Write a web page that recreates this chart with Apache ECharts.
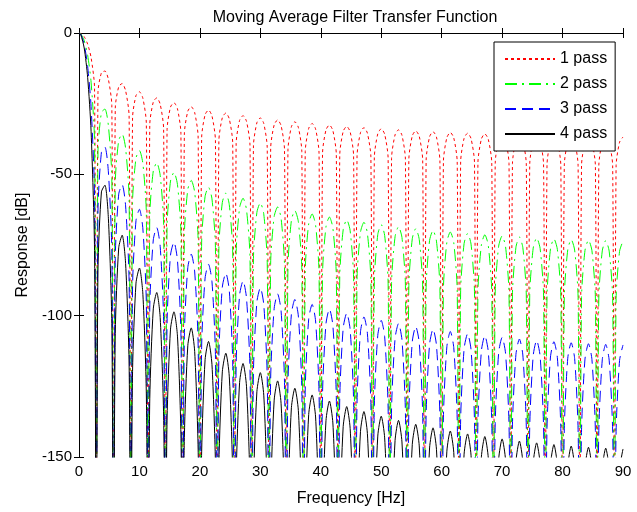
<!DOCTYPE html>
<html>
<head>
<meta charset="utf-8">
<script src="https://cdn.jsdelivr.net/npm/echarts@6/dist/echarts.min.js"></script>
<style>
  html, body { margin: 0; padding: 0; background: #fff; }
  #main { width: 637px; height: 512px; }
</style>
</head>
<body>
<div id="main"></div>
<script>
// frequency samples [Hz], one row per lobe (notch, rising, peak, falling)
var freq = [
    0, 0.29, 0.86, 1.43, 2.00, 2.57,
    2.86, 3.14, 3.71, 4.29, 4.86, 5.43,
    5.71, 6.00, 6.57, 7.14, 7.71, 8.29,
    8.57, 8.86, 9.43, 10.00, 10.57, 11.14,
    11.43, 11.71, 12.29, 12.86, 13.43, 14.00,
    14.29, 14.57, 15.14, 15.71, 16.29, 16.86,
    17.14, 17.43, 18.00, 18.57, 19.14, 19.71,
    20.00, 20.29, 20.86, 21.43, 22.00, 22.57,
    22.86, 23.14, 23.71, 24.29, 24.86, 25.43,
    25.71, 26.00, 26.57, 27.14, 27.71, 28.29,
    28.57, 28.86, 29.43, 30.00, 30.57, 31.14,
    31.43, 31.71, 32.29, 32.86, 33.43, 34.00,
    34.29, 34.57, 35.14, 35.71, 36.29, 36.86,
    37.14, 37.43, 38.00, 38.57, 39.14, 39.71,
    40.00, 40.29, 40.86, 41.43, 42.00, 42.57,
    42.86, 43.14, 43.71, 44.29, 44.86, 45.43,
    45.71, 46.00, 46.57, 47.14, 47.71, 48.29,
    48.57, 48.86, 49.43, 50.00, 50.57, 51.14,
    51.43, 51.71, 52.29, 52.86, 53.43, 54.00,
    54.29, 54.57, 55.14, 55.71, 56.29, 56.86,
    57.14, 57.43, 58.00, 58.57, 59.14, 59.71,
    60.00, 60.29, 60.86, 61.43, 62.00, 62.57,
    62.86, 63.14, 63.71, 64.29, 64.86, 65.43,
    65.71, 66.00, 66.57, 67.14, 67.71, 68.29,
    68.57, 68.86, 69.43, 70.00, 70.57, 71.14,
    71.43, 71.71, 72.29, 72.86, 73.43, 74.00,
    74.29, 74.57, 75.14, 75.71, 76.29, 76.86,
    77.14, 77.43, 78.00, 78.57, 79.14, 79.71,
    80.00, 80.29, 80.86, 81.43, 82.00, 82.57,
    82.86, 83.14, 83.71, 84.29, 84.86, 85.43,
    85.71, 86.00, 86.57, 87.14, 87.71, 88.29,
    88.57, 88.86, 89.43, 90.00
]

// response [dB], 1 pass
var pass1 = [
    0, -0.14, -1.33, -3.92, -8.69, -19.23,
    -200, -20.97, -14.06, -13.46, -16.38, -25.71,
    -200, -26.57, -19.00, -17.88, -20.39, -29.37,
    -200, -29.94, -22.12, -20.79, -23.11, -31.92,
    -200, -32.35, -24.40, -22.95, -25.16, -33.88,
    -200, -34.24, -26.19, -24.66, -26.81, -35.48,
    -200, -35.76, -27.66, -26.08, -28.18, -36.80,
    -200, -37.04, -28.90, -27.28, -29.34, -37.92,
    -200, -38.13, -29.97, -28.32, -30.35, -38.91,
    -200, -39.09, -30.90, -29.23, -31.24, -39.77,
    -200, -39.93, -31.73, -30.04, -32.03, -40.55,
    -200, -40.70, -32.47, -30.77, -32.75, -41.24,
    -200, -41.37, -33.14, -31.42, -33.38, -41.87,
    -200, -41.99, -33.74, -32.01, -33.96, -42.43,
    -200, -42.55, -34.29, -32.55, -34.49, -42.95,
    -200, -43.05, -34.79, -33.04, -34.97, -43.43,
    -200, -43.51, -35.23, -33.48, -35.41, -43.85,
    -200, -43.93, -35.65, -33.89, -35.81, -44.25,
    -200, -44.32, -36.03, -34.26, -36.17, -44.60,
    -200, -44.68, -36.38, -34.61, -36.52, -44.94,
    -200, -45.00, -36.70, -34.92, -36.82, -45.24,
    -200, -45.29, -36.99, -35.20, -37.09, -45.51,
    -200, -45.56, -37.25, -35.46, -37.35, -45.76,
    -200, -45.80, -37.49, -35.69, -37.57, -45.98,
    -200, -46.02, -37.70, -35.90, -37.78, -46.18,
    -200, -46.22, -37.89, -36.09, -37.97, -46.36,
    -200, -46.39, -38.06, -36.25, -38.12, -46.51,
    -200, -46.55, -38.21, -36.40, -38.27, -46.65,
    -200, -46.68, -38.35, -36.53, -38.39, -46.78,
    -200, -46.80, -38.46, -36.64, -38.50, -46.88,
    -200, -46.89, -38.54, -36.72, -38.58, -46.95,
    -200, -46.97, -38.62, -36.79
]

// 2 passes
var pass2 = [
    0, -0.28, -2.66, -7.84, -17.38, -38.46,
    -200, -41.94, -28.12, -26.92, -32.76, -51.42,
    -200, -53.14, -38.00, -35.76, -40.78, -58.74,
    -200, -59.88, -44.24, -41.58, -46.22, -63.84,
    -200, -64.70, -48.80, -45.90, -50.32, -67.76,
    -200, -68.48, -52.38, -49.32, -53.62, -70.96,
    -200, -71.52, -55.32, -52.16, -56.36, -73.60,
    -200, -74.08, -57.80, -54.56, -58.68, -75.84,
    -200, -76.26, -59.94, -56.64, -60.70, -77.82,
    -200, -78.18, -61.80, -58.46, -62.48, -79.54,
    -200, -79.86, -63.46, -60.08, -64.06, -81.10,
    -200, -81.40, -64.94, -61.54, -65.50, -82.48,
    -200, -82.74, -66.28, -62.84, -66.76, -83.74,
    -200, -83.98, -67.48, -64.02, -67.92, -84.86,
    -200, -85.10, -68.58, -65.10, -68.98, -85.90,
    -200, -86.10, -69.58, -66.08, -69.94, -86.86,
    -200, -87.02, -70.46, -66.96, -70.82, -87.70,
    -200, -87.86, -71.30, -67.78, -71.62, -88.50,
    -200, -88.64, -72.06, -68.52, -72.34, -89.20,
    -200, -89.36, -72.76, -69.22, -73.04, -89.88,
    -200, -90.00, -73.40, -69.84, -73.64, -90.48,
    -200, -90.58, -73.98, -70.40, -74.18, -91.02,
    -200, -91.12, -74.50, -70.92, -74.70, -91.52,
    -200, -91.60, -74.98, -71.38, -75.14, -91.96,
    -200, -92.04, -75.40, -71.80, -75.56, -92.36,
    -200, -92.44, -75.78, -72.18, -75.94, -92.72,
    -200, -92.78, -76.12, -72.50, -76.24, -93.02,
    -200, -93.10, -76.42, -72.80, -76.54, -93.30,
    -200, -93.36, -76.70, -73.06, -76.78, -93.56,
    -200, -93.60, -76.92, -73.28, -77.00, -93.76,
    -200, -93.78, -77.08, -73.44, -77.16, -93.90,
    -200, -93.94, -77.24, -73.58
]

// 3 passes
var pass3 = [
    0, -0.42, -3.99, -11.76, -26.07, -57.69,
    -200, -62.91, -42.18, -40.38, -49.14, -77.13,
    -200, -79.71, -57.00, -53.64, -61.17, -88.11,
    -200, -89.82, -66.36, -62.37, -69.33, -95.76,
    -200, -97.05, -73.20, -68.85, -75.48, -101.64,
    -200, -102.72, -78.57, -73.98, -80.43, -106.44,
    -200, -107.28, -82.98, -78.24, -84.54, -110.40,
    -200, -111.12, -86.70, -81.84, -88.02, -113.76,
    -200, -114.39, -89.91, -84.96, -91.05, -116.73,
    -200, -117.27, -92.70, -87.69, -93.72, -119.31,
    -200, -119.79, -95.19, -90.12, -96.09, -121.65,
    -200, -122.10, -97.41, -92.31, -98.25, -123.72,
    -200, -124.11, -99.42, -94.26, -100.14, -125.61,
    -200, -125.97, -101.22, -96.03, -101.88, -127.29,
    -200, -127.65, -102.87, -97.65, -103.47, -128.85,
    -200, -129.15, -104.37, -99.12, -104.91, -130.29,
    -200, -130.53, -105.69, -100.44, -106.23, -131.55,
    -200, -131.79, -106.95, -101.67, -107.43, -132.75,
    -200, -132.96, -108.09, -102.78, -108.51, -133.80,
    -200, -134.04, -109.14, -103.83, -109.56, -134.82,
    -200, -135.00, -110.10, -104.76, -110.46, -135.72,
    -200, -135.87, -110.97, -105.60, -111.27, -136.53,
    -200, -136.68, -111.75, -106.38, -112.05, -137.28,
    -200, -137.40, -112.47, -107.07, -112.71, -137.94,
    -200, -138.06, -113.10, -107.70, -113.34, -138.54,
    -200, -138.66, -113.67, -108.27, -113.91, -139.08,
    -200, -139.17, -114.18, -108.75, -114.36, -139.53,
    -200, -139.65, -114.63, -109.20, -114.81, -139.95,
    -200, -140.04, -115.05, -109.59, -115.17, -140.34,
    -200, -140.40, -115.38, -109.92, -115.50, -140.64,
    -200, -140.67, -115.62, -110.16, -115.74, -140.85,
    -200, -140.91, -115.86, -110.37
]

// 4 passes
var pass4 = [
    0, -0.56, -5.32, -15.68, -34.76, -76.92,
    -200, -83.88, -56.24, -53.84, -65.52, -102.84,
    -200, -106.28, -76.00, -71.52, -81.56, -117.48,
    -200, -119.76, -88.48, -83.16, -92.44, -127.68,
    -200, -129.40, -97.60, -91.80, -100.64, -135.52,
    -200, -136.96, -104.76, -98.64, -107.24, -141.92,
    -200, -143.04, -110.64, -104.32, -112.72, -147.20,
    -200, -148.16, -115.60, -109.12, -117.36, -151.68,
    -200, -152.52, -119.88, -113.28, -121.40, -155.64,
    -200, -156.36, -123.60, -116.92, -124.96, -159.08,
    -200, -159.72, -126.92, -120.16, -128.12, -162.20,
    -200, -162.80, -129.88, -123.08, -131.00, -164.96,
    -200, -165.48, -132.56, -125.68, -133.52, -167.48,
    -200, -167.96, -134.96, -128.04, -135.84, -169.72,
    -200, -170.20, -137.16, -130.20, -137.96, -171.80,
    -200, -172.20, -139.16, -132.16, -139.88, -173.72,
    -200, -174.04, -140.92, -133.92, -141.64, -175.40,
    -200, -175.72, -142.60, -135.56, -143.24, -177.00,
    -200, -177.28, -144.12, -137.04, -144.68, -178.40,
    -200, -178.72, -145.52, -138.44, -146.08, -179.76,
    -200, -180.00, -146.80, -139.68, -147.28, -180.96,
    -200, -181.16, -147.96, -140.80, -148.36, -182.04,
    -200, -182.24, -149.00, -141.84, -149.40, -183.04,
    -200, -183.20, -149.96, -142.76, -150.28, -183.92,
    -200, -184.08, -150.80, -143.60, -151.12, -184.72,
    -200, -184.88, -151.56, -144.36, -151.88, -185.44,
    -200, -185.56, -152.24, -145.00, -152.48, -186.04,
    -200, -186.20, -152.84, -145.60, -153.08, -186.60,
    -200, -186.72, -153.40, -146.12, -153.56, -187.12,
    -200, -187.20, -153.84, -146.56, -154.00, -187.52,
    -200, -187.56, -154.16, -146.88, -154.32, -187.80,
    -200, -187.88, -154.48, -147.16
]

var seriesNames = ['1 pass', '2 pass', '3 pass', '4 pass']
var xTicks = [0, 10, 20, 30, 40, 50, 60, 70, 80, 90]
var yTicks = [0, -50, -100, -150]

var font = 'Liberation Sans, Arial, Helvetica, sans-serif'

function pairs(ys) {
    var out = []
    for (var i = 0; i < freq.length; i++) {
        out.push([freq[i], ys[i]])
    }
    return out
}

function lineSeries(name, ys, color, dash) {
    return {
        name: name,
        type: 'line',
        data: pairs(ys),
        xAxisIndex: 0,
        yAxisIndex: 0,
        symbol: 'none',
        showSymbol: false,
        smooth: 0.25,
        clip: true,
        lineStyle: { color: color, width: 1, type: dash },
        itemStyle: { color: color },
        emphasis: { disabled: true }
    }
}

var axisCommon = {
    axisLine: { show: true, lineStyle: { color: '#000', width: 1 } },
    axisTick: { show: true, inside: true, length: 5, lineStyle: { color: '#000' } },
    splitLine: { show: false }
}

var mCharts = echarts.init(document.getElementById('main'), null, { renderer: 'canvas' })

var option = {
    animation: false,
    backgroundColor: '#fff',
    title: {
        text: 'Moving Average Filter Transfer Function',
        left: 350,
        top: 5,
        textAlign: 'center',
        textStyle: { fontFamily: font, fontSize: 16, fontWeight: 'normal', color: '#000' }
    },
    legend: {
        data: seriesNames,
        orient: 'vertical',
        left: 494,
        top: 42,
        padding: [9, 8, 9, 10],
        itemWidth: 50,
        itemHeight: 14,
        itemGap: 9,
        backgroundColor: '#fff',
        borderColor: '#000',
        borderWidth: 1,
        borderRadius: 0,
        selectedMode: false,
        itemStyle: { opacity: 0 },
        textStyle: { fontFamily: font, fontSize: 16, color: '#000' }
    },
    grid: { left: 79, right: 14, top: 33, bottom: 49, containLabel: false },
    xAxis: [
        Object.assign({}, axisCommon, {
            type: 'value',
            position: 'bottom',
            min: 0,
            max: 90,
            interval: 10,
            name: 'Frequency [Hz]',
            nameLocation: 'middle',
            nameGap: 34,
            nameTextStyle: { fontFamily: font, fontSize: 16, color: '#000' },
            axisLabel: {
                fontFamily: font, fontSize: 15, color: '#000', margin: 7,
                formatter: function (v) { return xTicks.indexOf(v) >= 0 ? String(v) : '' }
            }
        }),
        Object.assign({}, axisCommon, {
            type: 'value',
            position: 'top',
            min: 0,
            max: 90,
            interval: 10,
            axisLabel: { show: false }
        })
    ],
    yAxis: [
        Object.assign({}, axisCommon, {
            type: 'value',
            position: 'left',
            min: -150,
            max: 0,
            interval: 50,
            name: 'Response [dB]',
            nameLocation: 'middle',
            nameGap: 47,
            nameTextStyle: { fontFamily: font, fontSize: 16, color: '#000' },
            axisLabel: {
                fontFamily: font, fontSize: 15, color: '#000', margin: 7,
                formatter: function (v) { return yTicks.indexOf(v) >= 0 ? String(v) : '' }
            }
        }),
        Object.assign({}, axisCommon, {
            type: 'value',
            position: 'right',
            min: -150,
            max: 0,
            interval: 50,
            axisLabel: { show: false }
        })
    ],
    series: [
        lineSeries(seriesNames[0], pass1, '#ff0000', [3, 3]),
        lineSeries(seriesNames[1], pass2, '#00ff00', [12, 5, 2, 5]),
        lineSeries(seriesNames[2], pass3, '#0000ff', [11, 6]),
        lineSeries(seriesNames[3], pass4, '#000000', 'solid')
    ]
}
mCharts.setOption(option)
</script>
</body>
</html>
